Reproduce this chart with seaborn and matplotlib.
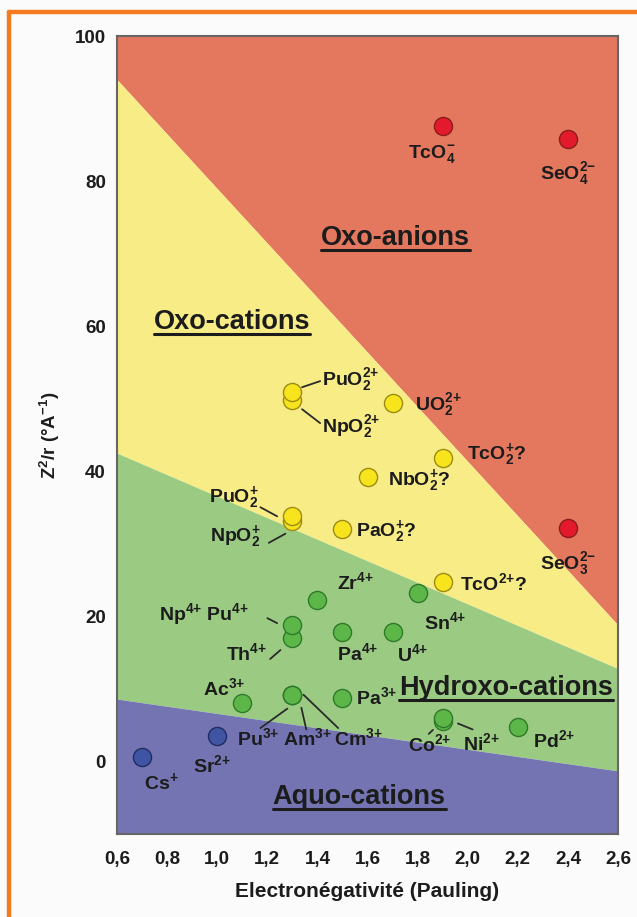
import numpy as np
import pandas as pd
import matplotlib
matplotlib.use("Agg")
import matplotlib.pyplot as plt
import matplotlib.transforms as mtransforms
from matplotlib.lines import Line2D
import seaborn as sns

# ---- data -------------------------------------------------------------
species = [
    "Cs+", "Sr2+",
    "Ac3+", "Pu3+", "Am3+", "Cm3+", "Pa3+", "Co2+", "Ni2+", "Pd2+",
    "Th4+", "Np4+Pu4+", "Pa4+", "U4+", "Zr4+", "Sn4+",
    "NpO2+", "PuO2+", "PaO2+?", "NbO2+?", "TcO2+?", "NpO22+", "PuO22+",
    "UO22+", "TcO2+?b",
    "TcO4-", "SeO42-", "SeO32-",
]
electronegativity = [
    0.7, 1.0,
    1.1, 1.3, 1.3, 1.3, 1.5, 1.9, 1.9, 2.2,
    1.3, 1.3, 1.5, 1.7, 1.4, 1.8,
    1.3, 1.3, 1.5, 1.6, 1.9, 1.3, 1.3,
    1.7, 1.9,
    1.9, 2.4, 2.4,
]
z2_over_r = [
    0.55, 3.45,
    8.0, 9.2, 9.2, 9.2, 8.7, 5.6, 6.0, 4.7,
    17.0, 18.8, 17.8, 17.9, 22.2, 23.2,
    33.2, 33.8, 32.0, 39.2, 41.8, 49.8, 50.9,
    49.4, 24.8,
    87.6, 85.8, 32.2,
]
family = (["aquo"] * 2 + ["hydroxo"] * 14 + ["oxo"] * 9 + ["anion"] * 3)

xticks = [0.6, 0.8, 1.0, 1.2, 1.4, 1.6, 1.8, 2.0, 2.2, 2.4, 2.6]
xtick_labels = ["0,6", "0,8", "1,0", "1,2", "1,4", "1,6", "1,8",
                "2,0", "2,2", "2,4", "2,6"]
yticks = [0, 20, 40, 60, 80, 100]

# zone limits, given at x = 0.6 and x = 2.6
limit_x = [0.6, 2.6]
anion_limit = [94.0, 18.8]
oxo_limit = [42.5, 12.8]
hydroxo_limit = [8.6, -1.3]

zone_names = ["Oxo-anions", "Oxo-cations", "Hydroxo-cations", "Aquo-cations"]

# ---- styling ----------------------------------------------------------
sns.set_style("white")
plt.rcParams["font.family"] = ["Liberation Sans", "DejaVu Sans"]
plt.rcParams["font.weight"] = "bold"
plt.rcParams["mathtext.fontset"] = "custom"
for key in ("rm", "it", "bf", "sf"):
    plt.rcParams["mathtext." + key] = "Liberation Sans:bold"

TXT = "#1c1c1c"
zone_fill = {"anion": "#e4785f", "oxo": "#f7ec86", "hydroxo": "#9bcb83",
             "aquo": "#7474b3"}
dot_face = {"anion": "#e31a2c", "oxo": "#f7e41c", "hydroxo": "#5cb748",
            "aquo": "#3f55a4"}
dot_edge = {"anion": "#8a1c1c", "oxo": "#9c8c14", "hydroxo": "#2f7a2a",
            "aquo": "#1f2b62"}

# charge signs are wrapped in braces so mathtext sets them tight
P = "{+}"
M = "{-}"

# label text, offset (points, baseline), alignment, optional leader segment
label_style = {
    "Cs+":     (rf"Cs$^{P}$", (13.7, -23), "center", None),
    "Sr2+":    (rf"Sr$^{{2{P}}}$", (-3.6, -26), "center", None),
    "Ac3+":    (rf"Ac$^{{3{P}}}$", (-13, 5.8), "center", None),
    "Pu3+":    (rf"Pu$^{{3{P}}}$", (-25, -36), "center", ((-23, -24), (-3.6, -10))),
    "Am3+":    (rf"Am$^{{3{P}}}$", (10.8, -36), "center", ((6.5, -9.4), (10, -25))),
    "Cm3+":    (rf"Cm$^{{3{P}}}$", (47.5, -36), "center", ((8, 0), (33, -24))),
    "Pa3+":    (rf"Pa$^{{3{P}}}$", (9.4, -4.3), "left", None),
    "Co2+":    (rf"Co$^{{2{P}}}$", (-9.4, -21.6), "center", ((-7, -6.5), (-10, -9.4))),
    "Ni2+":    (rf"Ni$^{{2{P}}}$", (28, -23.4), "center", ((11, -4), (21.6, -8.3))),
    "Pd2+":    (rf"Pd$^{{2{P}}}$", (26, -14.4), "center", None),
    "Th4+":    (rf"Th$^{{4{P}}}$", (-18, -15.8), "right", ((-16, -15), (-8.6, -8.6))),
    "Np4+Pu4+": (rf"Np$^{{4{P}}}$ Pu$^{{4{P}}}$", (-31.7, 3.6), "right", ((-18, 5), (-11, 1.4))),
    "Pa4+":    (rf"Pa$^{{4{P}}}$", (10.8, -20), "center", None),
    "U4+":     (rf"U$^{{4{P}}}$", (14.4, -21), "center", None),
    "Zr4+":    (rf"Zr$^{{4{P}}}$", (14.4, 8), "left", None),
    "Sn4+":    (rf"Sn$^{{4{P}}}$", (4.3, -26), "left", None),
    "NpO2+":   (rf"NpO$_2^{P}$", (-23, -14.4), "right", ((-17, -16), (-5, -9.4))),
    "PuO2+":   (rf"PuO$_2^{P}$", (-24.5, 10), "right", ((-23, 6.5), (-11, 0))),
    "PaO2+?":  (rf"PaO$_2^{P}$?", (10, -5), "left", None),
    "NbO2+?":  (rf"NbO$_2^{P}$?", (15, -5.8), "left", None),
    "TcO2+?":  (rf"TcO$_2^{P}$?", (17.3, -0.7), "left", None),
    "NpO22+":  (rf"NpO$_2^{{2{P}}}$", (21.6, -23), "left", ((7, -6.5), (20, -16.5))),
    "PuO22+":  (rf"PuO$_2^{{2{P}}}$", (21.6, 5), "left", ((7, 3.6), (20, 8))),
    "UO22+":   (rf"UO$_2^{{2{P}}}$", (16, -5), "left", None),
    "TcO2+?b": (rf"TcO$^{{2{P}}}$?", (12.2, -5.8), "left", None),
    "TcO4-":   (rf"TcO$_4^{M}$", (-8, -23), "center", None),
    "SeO42-":  (rf"SeO$_4^{{2{M}}}$", (0, -29), "center", None),
    "SeO32-":  (rf"SeO$_3^{{2{M}}}$", (0, -29.5), "center", None),
}

zone_label_pos = {
    "Oxo-anions": (1.71, 71.2),
    "Oxo-cations": (1.06, 59.6),
    "Hydroxo-cations": (2.153, 9.1),
    "Aquo-cations": (1.566, -5.8),
}

df = pd.DataFrame({"species": species, "en": electronegativity,
                   "z2r": z2_over_r, "family": family})

# ---- figure -----------------------------------------------------------
fig = plt.figure(figsize=(6.37, 9.17), dpi=100, facecolor="#fbfbfb")
ax = fig.add_axes([0.1837, 0.0905, 0.7865, 0.8702])
ymin, ymax = -10, 100
ax.set_xlim(0.6, 2.6)
ax.set_ylim(ymin, ymax)

ax.fill_between(limit_x, anion_limit, [ymax, ymax], color=zone_fill["anion"], lw=0)
ax.fill_between(limit_x, oxo_limit, anion_limit, color=zone_fill["oxo"], lw=0)
ax.fill_between(limit_x, hydroxo_limit, oxo_limit, color=zone_fill["hydroxo"], lw=0)
ax.fill_between(limit_x, [ymin, ymin], hydroxo_limit, color=zone_fill["aquo"], lw=0)

for fam in ["aquo", "hydroxo", "oxo", "anion"]:
    sub = df[df["family"] == fam]
    sns.scatterplot(data=sub, x="en", y="z2r", color=dot_face[fam],
                    edgecolor=dot_edge[fam], linewidth=1.0, s=170,
                    ax=ax, zorder=3, legend=False)

pt_to_px = mtransforms.Affine2D().scale(1 / 72.0) + fig.dpi_scale_trans
for _, row in df.iterrows():
    text, (dx, dy), ha, leader = label_style[row["species"]]
    ax.annotate(text, xy=(row["en"], row["z2r"]), xytext=(dx, dy),
                textcoords="offset points", ha=ha, va="baseline",
                fontsize=14, fontweight="bold", color=TXT, zorder=4)
    if leader is not None:
        anchor = mtransforms.ScaledTranslation(row["en"], row["z2r"], ax.transData)
        (x0, y0), (x1, y1) = leader
        ax.add_line(Line2D([x0, x1], [y0, y1], transform=pt_to_px + anchor,
                           color="#2a2a2a", lw=1.3, zorder=4))

zone_texts = []
for name in zone_names:
    zx, zy = zone_label_pos[name]
    t = ax.text(zx, zy, name, ha="center", va="baseline", fontsize=19.5,
                fontweight="bold", color=TXT, zorder=5)
    zone_texts.append(t)

# axes cosmetics
ax.set_xticks(xticks)
ax.set_xticklabels(xtick_labels)
ax.set_yticks(yticks)
ax.tick_params(axis="both", direction="out", length=5, width=1.2,
               color="#666666", labelsize=13.5, labelcolor=TXT)
ax.tick_params(axis="x", pad=7)
ax.tick_params(axis="y", pad=3)
for lab in ax.get_xticklabels() + ax.get_yticklabels():
    lab.set_fontweight("bold")
for sp in ax.spines.values():
    sp.set_color("#666666")
    sp.set_linewidth(1.5)
ax.set_xlabel("Electronégativité (Pauling)", fontsize=15, fontweight="bold",
              color=TXT, labelpad=10)
ax.set_ylabel(r"Z$^{2}$/r (°A$^{{-}1}$)", fontsize=13.5, fontweight="bold",
              color=TXT, labelpad=9)

# underline the zone names
fig.canvas.draw()
inv = fig.transFigure.inverted()
for t in zone_texts:
    bb = t.get_window_extent()
    base = ax.transData.transform(t.get_position())[1] - 5
    (fx0, fy), (fx1, _) = inv.transform([(bb.x0, base), (bb.x1, base)])
    fig.add_artist(Line2D([fx0, fx1], [fy, fy], transform=fig.transFigure,
                          color=TXT, lw=2.2, zorder=6))

# orange frame
fig.add_artist(Line2D([9 / 637, 9 / 637], [0, 1 - 12 / 917],
                      transform=fig.transFigure, color="#f47b20", lw=3.2))
fig.add_artist(Line2D([9 / 637, 1], [1 - 12 / 917, 1 - 12 / 917],
                      transform=fig.transFigure, color="#f47b20", lw=3.2))

fig.savefig("out.png", dpi=100, facecolor=fig.get_facecolor())
